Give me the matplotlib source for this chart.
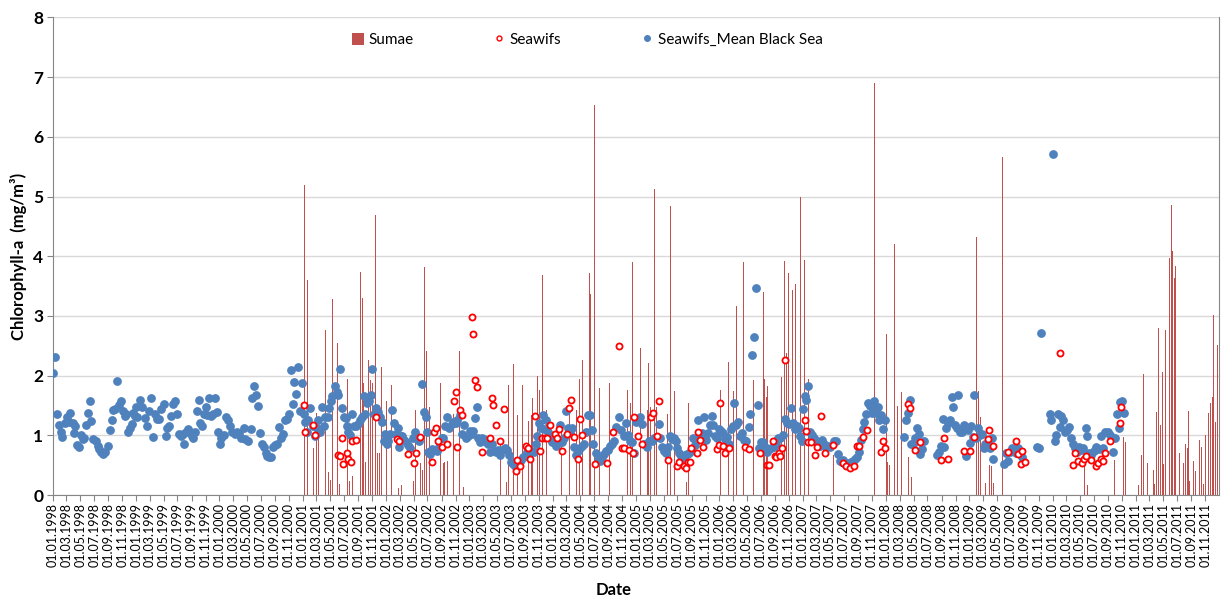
import datetime as dt
import matplotlib
matplotlib.use("Agg")
import matplotlib.pyplot as plt
import matplotlib.dates as mdates
from matplotlib.lines import Line2D
from matplotlib.patches import Patch

# dates are given as decimal years

# Seawifs_Mean Black Sea (blue dots)
mean_years = [
    1998.000, 1998.028, 1998.044, 1998.076, 1998.092, 1998.112, 1998.144, 1998.164, 1998.196, 1998.204,
    1998.236, 1998.252, 1998.268, 1998.284, 1998.316, 1998.332, 1998.356, 1998.376, 1998.396, 1998.424,
    1998.444, 1998.460, 1998.484, 1998.512, 1998.536, 1998.556, 1998.572, 1998.596, 1998.624, 1998.664,
    1998.684, 1998.708, 1998.724, 1998.748, 1998.772, 1998.796, 1998.820, 1998.836, 1998.860, 1998.876,
    1998.900, 1998.924, 1998.944, 1998.964, 1998.984, 1998.996, 1999.012, 1999.044, 1999.068, 1999.100,
    1999.124, 1999.156, 1999.172, 1999.204, 1999.224, 1999.244, 1999.268, 1999.292, 1999.332, 1999.352,
    1999.372, 1999.396, 1999.412, 1999.444, 1999.464, 1999.484, 1999.508, 1999.532, 1999.556, 1999.572,
    1999.596, 1999.624, 1999.644, 1999.664, 1999.684, 1999.704, 1999.724, 1999.748, 1999.764, 1999.788,
    1999.812, 1999.836, 1999.852, 1999.876, 1999.900, 1999.924, 1999.948, 1999.972, 1999.984, 2000.004,
    2000.024, 2000.052, 2000.084, 2000.108, 2000.132, 2000.148, 2000.184, 2000.212, 2000.236, 2000.264,
    2000.292, 2000.308, 2000.344, 2000.376, 2000.392, 2000.416, 2000.440, 2000.464, 2000.484, 2000.512,
    2000.536, 2000.556, 2000.576, 2000.600, 2000.624, 2000.648, 2000.672, 2000.696, 2000.720, 2000.744,
    2000.768, 2000.792, 2000.816, 2000.832, 2000.856, 2000.880, 2000.896, 2000.924, 2000.944, 2000.968,
    2000.992, 2001.008, 2001.024, 2001.048, 2001.064, 2001.088, 2001.116, 2001.144, 2001.164, 2001.184,
    2001.200, 2001.224, 2001.248, 2001.264, 2001.296, 2001.312, 2001.336, 2001.352, 2001.384, 2001.404,
    2001.424, 2001.440, 2001.464, 2001.488, 2001.512, 2001.528, 2001.544, 2001.568, 2001.592, 2001.616,
    2001.640, 2001.664, 2001.688, 2001.704, 2001.728, 2001.744, 2001.768, 2001.792, 2001.816, 2001.832,
    2001.856, 2001.872, 2001.896, 2001.920, 2001.944, 2001.968, 2001.984, 2002.008, 2002.024, 2002.048,
    2002.072, 2002.092, 2002.112, 2002.136, 2002.152, 2002.172, 2002.192, 2002.216, 2002.240, 2002.264,
    2002.288, 2002.320, 2002.344, 2002.368, 2002.392, 2002.424, 2002.448, 2002.472, 2002.488, 2002.504,
    2002.528, 2002.552, 2002.584, 2002.608, 2002.632, 2002.664, 2002.684, 2002.704, 2002.732, 2002.756,
    2002.784, 2002.804, 2002.832, 2002.852, 2002.884, 2002.908, 2002.932, 2002.956, 2002.980, 2003.004,
    2003.028, 2003.044, 2003.064, 2003.092, 2003.108, 2003.132, 2003.156, 2003.180, 2003.204, 2003.228,
    2003.252, 2003.276, 2003.304, 2003.324, 2003.348, 2003.372, 2003.396, 2003.428, 2003.452, 2003.476,
    2003.500, 2003.524, 2003.548, 2003.572, 2003.596, 2003.620, 2003.644, 2003.668, 2003.692, 2003.716,
    2003.740, 2003.772, 2003.796, 2003.812, 2003.836, 2003.860, 2003.884, 2003.900, 2003.916, 2003.948,
    2003.972, 2003.988, 2004.012, 2004.036, 2004.060, 2004.084, 2004.108, 2004.132, 2004.156, 2004.180,
    2004.204, 2004.228, 2004.252, 2004.284, 2004.308, 2004.332, 2004.356, 2004.380, 2004.404, 2004.428,
    2004.452, 2004.468, 2004.484, 2004.516, 2004.540, 2004.564, 2004.588, 2004.612, 2004.636, 2004.660,
    2004.684, 2004.708, 2004.732, 2004.764, 2004.792, 2004.824, 2004.852, 2004.876, 2004.900, 2004.924,
    2004.948, 2004.972, 2004.996, 2005.020, 2005.044, 2005.072, 2005.096, 2005.128, 2005.152, 2005.184,
    2005.208, 2005.240, 2005.272, 2005.284, 2005.304, 2005.328, 2005.352, 2005.376, 2005.400, 2005.424,
    2005.448, 2005.472, 2005.488, 2005.512, 2005.536, 2005.560, 2005.584, 2005.608, 2005.632, 2005.656,
    2005.684, 2005.704, 2005.728, 2005.744, 2005.768, 2005.784, 2005.812, 2005.832, 2005.856, 2005.880,
    2005.904, 2005.920, 2005.944, 2005.968, 2005.992, 2006.016, 2006.040, 2006.064, 2006.088, 2006.112,
    2006.136, 2006.160, 2006.180, 2006.200, 2006.224, 2006.248, 2006.272, 2006.296, 2006.320, 2006.352,
    2006.372, 2006.396, 2006.416, 2006.436, 2006.464, 2006.480, 2006.504, 2006.528, 2006.552, 2006.576,
    2006.600, 2006.624, 2006.656, 2006.680, 2006.704, 2006.728, 2006.760, 2006.784, 2006.808, 2006.832,
    2006.856, 2006.880, 2006.904, 2006.928, 2006.952, 2006.968, 2006.992, 2007.000, 2007.024, 2007.040,
    2007.060, 2007.088, 2007.112, 2007.136, 2007.160, 2007.184, 2007.208, 2007.232, 2007.256, 2007.280,
    2007.304, 2007.328, 2007.372, 2007.396, 2007.420, 2007.444, 2007.468, 2007.484, 2007.508, 2007.532,
    2007.556, 2007.580, 2007.604, 2007.628, 2007.652, 2007.676, 2007.700, 2007.724, 2007.740, 2007.764,
    2007.788, 2007.804, 2007.828, 2007.852, 2007.876, 2007.900, 2007.916, 2007.940, 2007.964, 2007.988,
    2008.220, 2008.236, 2008.260, 2008.284, 2008.300, 2008.324, 2008.348, 2008.372, 2008.396, 2008.412,
    2008.436, 2008.460, 2008.612, 2008.636, 2008.660, 2008.684, 2008.700, 2008.724, 2008.740, 2008.764,
    2008.788, 2008.804, 2008.828, 2008.852, 2008.868, 2008.892, 2008.916, 2008.940, 2008.964, 2008.988,
    2009.004, 2009.020, 2009.044, 2009.060, 2009.084, 2009.100, 2009.124, 2009.148, 2009.172, 2009.188,
    2009.204, 2009.220, 2009.244, 2009.268, 2009.284, 2009.412, 2009.436, 2009.460, 2009.484, 2009.508,
    2009.532, 2009.556, 2009.580, 2009.604, 2009.628, 2009.808, 2009.840, 2009.857, 2009.964, 2009.984,
    2010.005, 2010.024, 2010.044, 2010.064, 2010.084, 2010.104, 2010.128, 2010.144, 2010.168, 2010.192,
    2010.224, 2010.244, 2010.264, 2010.288, 2010.312, 2010.344, 2010.368, 2010.396, 2010.416, 2010.440,
    2010.464, 2010.496, 2010.524, 2010.552, 2010.576, 2010.608, 2010.632, 2010.664, 2010.688, 2010.712,
    2010.720, 2010.744, 2010.768, 2010.792, 2010.812, 2010.836, 2010.856,
]
mean_chl = [
    2.04, 2.32, 1.35, 1.17, 1.06, 0.98, 1.20, 1.31, 1.23, 1.38,
    1.21, 1.04, 1.16, 0.84, 0.81, 1.00, 0.94, 0.96, 1.18, 1.37,
    1.57, 1.24, 0.94, 0.90, 0.82, 0.77, 0.72, 0.69, 0.72, 0.82,
    1.09, 1.26, 1.42, 1.44, 1.91, 1.50, 1.57, 1.40, 1.33, 1.35,
    1.05, 1.13, 1.19, 1.38, 1.33, 1.48, 1.31, 1.60, 1.47, 1.29,
    1.16, 1.41, 1.63, 0.97, 1.35, 1.27, 1.27, 1.44, 1.52, 0.99,
    1.13, 1.16, 1.33, 1.53, 1.57, 1.35, 1.03, 0.99, 1.02, 0.86,
    1.05, 1.10, 1.05, 0.99, 0.96, 1.05, 1.41, 1.60, 1.20, 1.16,
    1.35, 1.47, 1.34, 1.63, 1.33, 1.35, 1.63, 1.39, 1.06, 0.86,
    0.96, 1.00, 1.31, 1.25, 1.15, 1.05, 1.02, 1.05, 1.04, 0.96,
    1.13, 0.94, 0.91, 1.10, 1.62, 1.82, 1.67, 1.49, 1.04, 0.86,
    0.80, 0.71, 0.66, 0.63, 0.63, 0.80, 0.84, 0.86, 1.14, 0.96,
    1.03, 1.25, 1.28, 1.35, 2.09, 1.52, 1.89, 1.69, 2.14, 1.41,
    1.88, 1.35, 1.23, 1.06, 1.26, 1.45, 1.15, 0.99, 1.13, 1.25,
    1.05, 1.48, 1.16, 1.31, 1.31, 1.45, 1.58, 1.66, 1.82, 1.72,
    1.67, 2.11, 1.46, 1.31, 1.29, 1.16, 1.06, 1.00, 1.35, 1.15,
    1.16, 1.19, 1.26, 1.31, 1.66, 1.35, 1.54, 1.58, 1.67, 2.11,
    1.35, 1.46, 1.39, 1.31, 1.23, 0.91, 1.03, 0.85, 0.91, 1.02,
    1.42, 1.20, 1.02, 1.12, 0.81, 0.99, 0.99, 0.92, 0.88, 0.84,
    0.78, 0.96, 1.05, 0.96, 0.91, 1.86, 1.39, 1.31, 1.05, 0.72,
    0.69, 0.77, 0.75, 0.74, 0.80, 0.96, 0.96, 1.15, 1.31, 1.13,
    1.19, 1.23, 1.20, 1.26, 1.34, 1.02, 1.18, 0.95, 0.99, 1.08,
    1.02, 1.08, 1.29, 1.48, 0.96, 0.88, 0.96, 0.94, 0.88, 0.86,
    0.72, 0.86, 0.74, 0.72, 0.76, 0.67, 0.75, 0.78, 0.76, 0.67,
    0.56, 0.52, 0.48, 0.51, 0.55, 0.59, 0.63, 0.66, 0.72, 0.70,
    0.74, 0.72, 0.85, 0.99, 1.21, 1.13, 1.34, 1.11, 1.26, 1.05,
    0.95, 0.89, 0.96, 0.82, 0.88, 1.18, 0.89, 0.96, 1.41, 1.13,
    1.04, 1.13, 0.81, 0.67, 0.74, 0.78, 0.82, 0.85, 1.06, 1.34,
    1.34, 1.09, 0.85, 0.71, 0.59, 0.57, 0.63, 0.69, 0.74, 0.76,
    0.82, 0.85, 0.91, 1.14, 1.30, 1.09, 0.99, 1.20, 1.00, 0.91,
    0.88, 0.71, 1.23, 1.28, 1.30, 1.19, 0.85, 0.81, 0.91, 0.91,
    0.95, 0.97, 1.19, 0.95, 0.80, 0.74, 0.71, 0.80, 0.99, 0.94,
    0.96, 0.91, 0.78, 0.71, 0.66, 0.61, 0.67, 0.68, 0.70, 0.74,
    0.95, 0.84, 0.94, 1.26, 1.02, 1.04, 1.31, 0.92, 1.04, 1.18,
    1.33, 1.18, 0.99, 0.96, 1.11, 1.07, 1.04, 0.94, 0.98, 0.85,
    1.11, 1.16, 1.54, 1.17, 1.23, 0.99, 1.04, 0.92, 0.91, 1.14,
    1.36, 2.34, 2.64, 3.46, 1.51, 0.79, 0.88, 0.88, 0.80, 0.72,
    0.77, 0.78, 0.81, 0.85, 0.96, 0.95, 1.00, 1.28, 1.21, 1.19,
    1.45, 1.21, 1.11, 1.16, 1.13, 0.99, 0.90, 1.44, 1.66, 1.59,
    1.82, 1.05, 1.01, 0.96, 0.91, 0.86, 0.82, 0.92, 0.85, 0.80,
    0.82, 0.80, 0.91, 0.91, 0.69, 0.57, 0.55, 0.59, 0.52, 0.53,
    0.52, 0.55, 0.57, 0.61, 0.63, 0.72, 0.92, 1.11, 1.23, 1.36,
    1.54, 1.49, 1.38, 1.57, 1.38, 1.48, 1.26, 1.34, 1.11, 1.25,
    0.98, 1.26, 1.38, 1.59, 0.85, 0.85, 0.96, 1.13, 1.02, 0.68,
    0.77, 0.91, 0.67, 0.72, 0.82, 1.28, 0.80, 1.13, 1.20, 1.26,
    1.64, 1.48, 1.17, 1.13, 1.67, 1.06, 1.05, 1.17, 0.66, 1.09,
    0.87, 1.16, 0.98, 1.68, 0.95, 1.13, 1.01, 1.02, 0.78, 0.85,
    0.84, 0.87, 0.78, 0.96, 0.61, 0.52, 0.70, 0.57, 0.72, 0.78,
    0.74, 0.70, 0.78, 0.71, 0.63, 0.80, 0.78, 2.72, 1.36, 1.25,
    5.72, 0.90, 1.00, 1.36, 1.14, 1.33, 1.26, 1.05, 1.09, 1.14,
    0.96, 0.85, 0.78, 0.72, 0.80, 0.76, 0.78, 1.12, 0.99, 0.70,
    0.67, 0.74, 0.81, 0.77, 0.99, 0.78, 1.06, 1.05, 1.00, 0.95,
    0.72, 0.95, 1.35, 1.13, 1.56, 1.58, 1.38,
]

# Seawifs (red open circles)
seawifs_years = [
    2001.008, 2001.024, 2001.124, 2001.144, 2001.416, 2001.440, 2001.464, 2001.484, 2001.528, 2001.544,
    2001.576, 2001.592, 2001.640, 2001.872, 2002.124, 2002.152, 2002.264, 2002.332, 2002.360, 2002.404,
    2002.544, 2002.568, 2002.596, 2002.616, 2002.664, 2002.724, 2002.812, 2002.836, 2002.852, 2002.884,
    2002.908, 2003.028, 2003.044, 2003.064, 2003.092, 2003.156, 2003.244, 2003.268, 2003.284, 2003.316,
    2003.372, 2003.412, 2003.556, 2003.576, 2003.604, 2003.684, 2003.700, 2003.724, 2003.784, 2003.852,
    2003.876, 2003.904, 2003.932, 2003.964, 2004.024, 2004.052, 2004.076, 2004.116, 2004.172, 2004.196,
    2004.224, 2004.252, 2004.304, 2004.332, 2004.356, 2004.504, 2004.652, 2004.724, 2004.792, 2004.828,
    2004.852, 2004.916, 2004.964, 2004.980, 2005.024, 2005.072, 2005.176, 2005.200, 2005.244, 2005.272,
    2005.376, 2005.488, 2005.512, 2005.576, 2005.592, 2005.616, 2005.640, 2005.656, 2005.728, 2005.744,
    2005.768, 2005.796, 2005.976, 2005.992, 2006.008, 2006.040, 2006.072, 2006.120, 2006.312, 2006.352,
    2006.484, 2006.576, 2006.596, 2006.644, 2006.664, 2006.684, 2006.712, 2006.728, 2006.752, 2006.792,
    2007.024, 2007.040, 2007.064, 2007.104, 2007.152, 2007.176, 2007.224, 2007.264, 2007.368, 2007.484,
    2007.516, 2007.564, 2007.612, 2007.652, 2007.676, 2007.724, 2007.772, 2007.944, 2007.964, 2007.992,
    2008.268, 2008.288, 2008.348, 2008.404, 2008.660, 2008.696, 2008.744, 2008.932, 2009.004, 2009.052,
    2009.220, 2009.240, 2009.284, 2009.464, 2009.556, 2009.588, 2009.616, 2009.636, 2009.668, 2010.084,
    2010.240, 2010.264, 2010.304, 2010.352, 2010.372, 2010.396, 2010.464, 2010.524, 2010.544, 2010.576,
    2010.604, 2010.632, 2010.688, 2010.808, 2010.824,
]
seawifs_chl = [
    1.50, 1.06, 1.17, 1.00, 0.67, 0.65, 0.95, 0.52, 0.70, 0.61,
    0.56, 0.91, 0.92, 1.31, 0.94, 0.91, 0.69, 0.53, 0.70, 0.98,
    0.56, 1.05, 1.13, 0.91, 0.80, 0.86, 1.58, 1.73, 0.81, 1.42,
    1.34, 2.98, 2.69, 1.92, 1.81, 0.72, 0.96, 1.62, 1.51, 1.17,
    0.91, 1.44, 0.41, 0.59, 0.48, 0.82, 0.78, 0.61, 1.33, 0.74,
    0.95, 0.96, 0.95, 1.18, 1.02, 0.96, 1.10, 0.74, 1.02, 1.45,
    1.59, 0.97, 0.60, 1.28, 1.00, 0.52, 0.53, 1.06, 2.50, 0.79,
    0.79, 0.75, 0.70, 1.31, 0.99, 0.86, 1.31, 1.38, 0.99, 1.58,
    0.59, 0.49, 0.56, 0.49, 0.46, 0.55, 0.56, 0.78, 0.70, 1.05,
    0.92, 0.80, 0.77, 0.84, 1.54, 0.82, 0.70, 0.78, 0.81, 0.77,
    0.70, 0.51, 0.51, 0.91, 0.66, 0.64, 0.71, 0.65, 0.79, 2.26,
    1.25, 1.08, 0.88, 0.89, 0.67, 0.80, 1.33, 0.70, 0.84, 0.53,
    0.49, 0.45, 0.48, 0.82, 0.82, 0.98, 1.09, 0.72, 0.91, 0.78,
    1.52, 1.46, 0.75, 0.88, 0.59, 0.95, 0.61, 0.74, 0.74, 0.98,
    0.94, 1.09, 0.82, 0.72, 0.90, 0.68, 0.52, 0.74, 0.55, 2.38,
    0.50, 0.70, 0.57, 0.53, 0.61, 0.65, 0.58, 0.48, 0.53, 0.61,
    0.57, 0.70, 0.90, 1.21, 1.48,
]

# Sumae (thin red bars)
sumae_years = [
    2001.017, 2001.053, 2001.124, 2001.160, 2001.184, 2001.268, 2001.304, 2001.336, 2001.360, 2001.412,
    2001.440, 2001.532, 2001.564, 2001.592, 2001.694, 2001.712, 2001.728, 2001.752, 2001.784, 2001.808,
    2001.832, 2001.870, 2001.896, 2001.920, 2001.944, 2001.998, 2002.064, 2002.152, 2002.184, 2002.328,
    2002.352, 2002.412, 2002.436, 2002.460, 2002.488, 2002.516, 2002.524, 2002.656, 2002.684, 2002.700,
    2002.732, 2002.812, 2002.850, 2002.878, 2002.924, 2003.376, 2003.444, 2003.464, 2003.530, 2003.572,
    2003.640, 2003.708, 2003.744, 2003.756, 2003.812, 2003.836, 2003.874, 2003.924, 2004.004, 2004.052,
    2004.076, 2004.108, 2004.204, 2004.244, 2004.284, 2004.316, 2004.324, 2004.356, 2004.438, 2004.452,
    2004.498, 2004.564, 2004.604, 2004.684, 2004.784, 2004.900, 2004.932, 2004.954, 2005.052, 2005.132,
    2005.144, 2005.172, 2005.215, 2005.244, 2005.372, 2005.415, 2005.456, 2005.604, 2005.632, 2006.016,
    2006.112, 2006.168, 2006.200, 2006.287, 2006.343, 2006.404, 2006.527, 2006.544, 2006.564, 2006.572,
    2006.744, 2006.784, 2006.804, 2006.827, 2006.876, 2006.911, 2006.976, 2007.024, 2007.072, 2007.112,
    2007.372, 2007.628, 2007.860, 2007.880, 2008.012, 2008.024, 2008.040, 2008.100, 2008.144, 2008.184,
    2008.276, 2008.312, 2009.084, 2009.108, 2009.132, 2009.188, 2009.236, 2009.260, 2009.284, 2009.396,
    2010.384, 2010.416, 2010.712, 2010.744, 2010.760, 2010.784, 2010.808, 2010.848, 2010.872, 2010.916,
    2010.976, 2011.032, 2011.064, 2011.096, 2011.144, 2011.208, 2011.224, 2011.248, 2011.276, 2011.296,
    2011.320, 2011.336, 2011.360, 2011.400, 2011.424, 2011.440, 2011.460, 2011.476, 2011.520, 2011.576,
    2011.592, 2011.616, 2011.632, 2011.648, 2011.688, 2011.712, 2011.760, 2011.784, 2011.808, 2011.832,
    2011.872, 2011.896, 2011.916, 2011.936, 2011.960, 2011.984,
]
sumae_chl = [
    5.19, 3.61, 0.78, 1.38, 1.21, 2.76, 0.38, 0.25, 3.28, 2.54,
    0.19, 1.95, 0.24, 0.32, 3.73, 3.30, 1.88, 0.55, 2.27, 1.92,
    1.88, 4.69, 0.71, 0.70, 2.14, 1.57, 1.84, 0.11, 0.17, 0.24,
    1.42, 0.54, 0.42, 3.82, 2.41, 1.47, 1.34, 1.87, 0.53, 0.55,
    0.57, 1.35, 2.34, 2.42, 0.13, 0.88, 0.22, 1.84, 2.19, 1.34,
    1.84, 1.24, 1.34, 1.62, 1.99, 1.76, 3.69, 1.42, 1.53, 1.60,
    1.70, 1.16, 1.44, 1.81, 1.42, 1.94, 1.95, 2.26, 3.72, 3.36,
    6.54, 1.79, 1.77, 1.87, 0.33, 1.76, 1.54, 3.91, 2.46, 1.42,
    2.22, 1.48, 5.13, 1.48, 1.36, 4.85, 1.75, 0.22, 1.54, 1.76,
    2.23, 1.74, 3.16, 3.91, 3.41, 1.93, 3.40, 1.94, 1.65, 1.83,
    1.97, 3.92, 2.38, 3.72, 3.44, 3.53, 4.99, 3.93, 1.95, 1.65,
    0.67, 1.66, 6.91, 1.68, 2.69, 0.55, 0.50, 4.21, 1.49, 1.72,
    0.63, 0.30, 4.32, 1.74, 1.31, 0.20, 0.50, 0.48, 0.20, 5.66,
    0.49, 0.17, 0.43, 0.59, 1.28, 3.55, 0.65, 0.97, 0.88, 0.51,
    1.02, 0.16, 0.67, 2.02, 0.53, 0.42, 0.18, 1.39, 2.80, 1.17,
    2.06, 0.52, 2.76, 3.97, 4.86, 4.09, 3.64, 3.84, 0.71, 0.53,
    0.85, 0.78, 1.41, 0.24, 0.57, 0.41, 0.92, 0.80, 0.18, 1.00,
    1.38, 1.54, 1.65, 3.02, 1.23, 2.51,
]


def to_date(y):
    year = int(y)
    return dt.datetime(year, 1, 1) + dt.timedelta(days=(y - year) * 365.25)


mean_dates = [to_date(y) for y in mean_years]
seawifs_dates = [to_date(y) for y in seawifs_years]
sumae_dates = [to_date(y) for y in sumae_years]

plt.rcParams['font.family'] = ['Lato', 'DejaVu Sans']

fig = plt.figure(figsize=(12.23, 5.99), dpi=100)
ax = fig.add_axes([0.0433, 0.1736, 0.9534, 0.7972])

ax.bar(sumae_dates, sumae_chl, width=4.0, color='#C0504D', linewidth=0, zorder=2)
ax.plot(mean_dates, mean_chl, 'o', ls='none', ms=5.3, color='#4F81BD', zorder=3)
ax.plot(seawifs_dates, seawifs_chl, 'o', ls='none', ms=4.4, mfc='white', mec='#FF0000', mew=1.3, zorder=4)

ax.set_ylim(0, 8)
ax.set_yticks(range(0, 9))
ax.set_xlim(dt.datetime(1998, 1, 1), dt.datetime(2011, 12, 31))
ax.xaxis.set_major_locator(mdates.MonthLocator(bymonth=[1, 3, 5, 7, 9, 11], bymonthday=1))
ax.xaxis.set_major_formatter(mdates.DateFormatter('%d.%m.%Y'))

ax.grid(axis='y', color='#D9D9D9', linewidth=1)
ax.set_axisbelow(True)
for side in ['left', 'bottom', 'right']:
    ax.spines[side].set_color('#868686')
ax.spines['top'].set_visible(False)

ax.tick_params(axis='x', labelrotation=90, labelsize=9, length=4, color='#868686', pad=2)
ax.tick_params(axis='y', labelsize=12.5, length=4, color='#868686', pad=3)
for lbl in ax.get_yticklabels():
    lbl.set_fontweight('bold')

ax.set_ylabel('Chlorophyll-a  (mg/m³)', fontsize=12, fontweight='bold')
ax.yaxis.set_label_coords(-0.022, 0.5)
ax.set_xlabel('Date', fontsize=12, fontweight='bold')
ax.xaxis.set_label_coords(0.481, -0.182)

handles = [
    Patch(facecolor='#C0504D', edgecolor='none'),
    Line2D([], [], marker='o', ls='none', ms=3.5, mfc='white', mec='#FF0000', mew=1.0),
    Line2D([], [], marker='o', ls='none', ms=4, color='#4F81BD'),
]
ax.legend(handles, ['Sumae', 'Seawifs', 'Seawifs_Mean Black Sea'], loc='center',
          bbox_to_anchor=(0.458, 0.953), ncol=3, frameon=False, fontsize=11,
          columnspacing=5.2, handlelength=0.8, handleheight=0.8, handletextpad=0.3)

fig.savefig('out.png', dpi=100)
